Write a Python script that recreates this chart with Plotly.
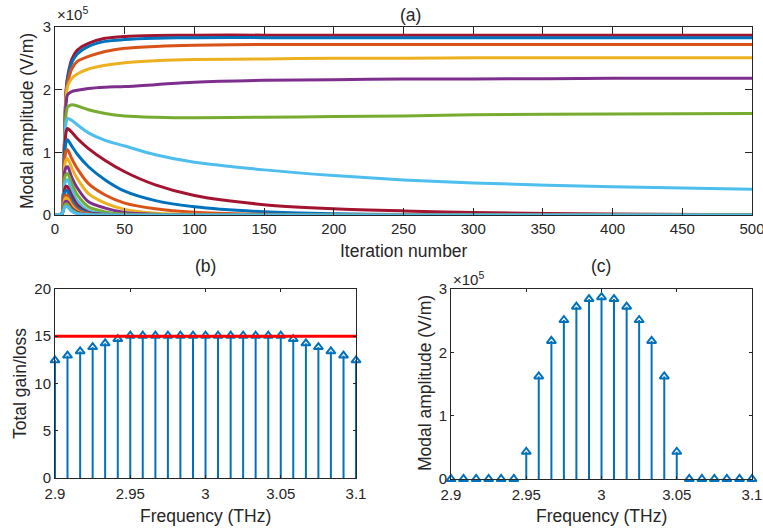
import plotly.graph_objects as go

# ---------------- data ----------------
# (a) modal amplitude (x1e5 V/m) versus iteration number, sampled at these iterations
iterations = [0, 5, 6, 7, 8, 9, 12, 16, 24, 36, 50, 72, 100, 150, 200, 250, 300, 400, 500]

mode_colors = ["#A2142F", "#0072BD", "#D95319", "#EDB120", "#7E2F8E", "#77AC30", "#4DBEEE"]

# modes that survive / approach steady state
amp_s1 = [0, 0.02, 0.3, 1.4, 2.00, 2.20, 2.48, 2.63, 2.74, 2.82, 2.85, 2.865, 2.87, 2.87, 2.87, 2.87, 2.87, 2.87, 2.87]
amp_s2 = [0, 0.02, 0.3, 1.4, 1.98, 2.17, 2.43, 2.57, 2.69, 2.77, 2.80, 2.82, 2.83, 2.83, 2.83, 2.83, 2.83, 2.83, 2.83]
amp_s3 = [0, 0.02, 0.3, 1.4, 1.95, 2.10, 2.33, 2.45, 2.53, 2.61, 2.66, 2.69, 2.71, 2.72, 2.72, 2.72, 2.72, 2.72, 2.72]
amp_s4 = [0, 0.02, 0.3, 1.4, 1.90, 2.05, 2.18, 2.25, 2.33, 2.39, 2.43, 2.46, 2.48, 2.49, 2.50, 2.50, 2.51, 2.51, 2.51]
amp_s5 = [0, 0.02, 0.3, 1.35, 1.80, 1.92, 1.97, 1.99, 2.02, 2.04, 2.05, 2.08, 2.12, 2.15, 2.16, 2.17, 2.17, 2.18, 2.18]
amp_s6 = [0, 0.02, 0.3, 1.3, 1.62, 1.72, 1.76, 1.74, 1.68, 1.62, 1.58, 1.56, 1.55, 1.56, 1.57, 1.58, 1.60, 1.61, 1.62]
amp_s7 = [0, 0.02, 0.3, 1.2, 1.48, 1.54, 1.51, 1.44, 1.31, 1.19, 1.10, 0.96, 0.84, 0.72, 0.63, 0.56, 0.51, 0.45, 0.41]

# modes that die out
amp_d1 = [0, 0.02, 0.3, 1.1, 1.33, 1.38, 1.32, 1.22, 1.06, 0.87, 0.69, 0.48, 0.31, 0.165, 0.10, 0.065, 0.04, 0.015, 0.005]
amp_d2 = [0, 0.02, 0.3, 1.0, 1.17, 1.20, 1.10, 0.97, 0.77, 0.56, 0.38, 0.23, 0.13, 0.05, 0.02, 0.008, 0.003, 0, 0]
amp_d3 = [0, 0.02, 0.3, 0.9, 1.02, 1.04, 0.90, 0.74, 0.50, 0.32, 0.19, 0.10, 0.045, 0.012, 0.003, 0, 0, 0, 0]
amp_d4 = [0, 0.02, 0.28, 0.8, 0.88, 0.90, 0.75, 0.58, 0.34, 0.19, 0.09, 0.03, 0.01, 0, 0, 0, 0, 0, 0]
amp_d5 = [0, 0.02, 0.25, 0.7, 0.76, 0.77, 0.60, 0.43, 0.21, 0.11, 0.04, 0.01, 0, 0, 0, 0, 0, 0, 0]
amp_d6 = [0, 0.02, 0.22, 0.6, 0.65, 0.66, 0.50, 0.32, 0.13, 0.05, 0.015, 0, 0, 0, 0, 0, 0, 0, 0]
amp_d7 = [0, 0.02, 0.2, 0.5, 0.55, 0.56, 0.40, 0.23, 0.07, 0.02, 0.005, 0, 0, 0, 0, 0, 0, 0, 0]
amp_d8 = [0, 0.02, 0.17, 0.42, 0.46, 0.45, 0.31, 0.16, 0.04, 0.01, 0, 0, 0, 0, 0, 0, 0, 0, 0]
amp_d9 = [0, 0.02, 0.15, 0.36, 0.39, 0.38, 0.25, 0.12, 0.03, 0.005, 0, 0, 0, 0, 0, 0, 0, 0, 0]
amp_d10 = [0, 0.02, 0.13, 0.30, 0.32, 0.31, 0.19, 0.09, 0.02, 0, 0, 0, 0, 0, 0, 0, 0, 0, 0]
amp_d11 = [0, 0.02, 0.11, 0.25, 0.27, 0.26, 0.15, 0.065, 0.012, 0, 0, 0, 0, 0, 0, 0, 0, 0, 0]
amp_d12 = [0, 0.02, 0.09, 0.20, 0.22, 0.21, 0.11, 0.045, 0.008, 0, 0, 0, 0, 0, 0, 0, 0, 0, 0]
amp_d13 = [0, 0.02, 0.08, 0.16, 0.18, 0.17, 0.08, 0.03, 0.005, 0, 0, 0, 0, 0, 0, 0, 0, 0, 0]
amp_d14 = [0, 0.02, 0.07, 0.12, 0.14, 0.13, 0.06, 0.02, 0.003, 0, 0, 0, 0, 0, 0, 0, 0, 0, 0]

mode_curves = [amp_s1, amp_s2, amp_s3, amp_s4, amp_s5, amp_s6, amp_s7,
               amp_d1, amp_d2, amp_d3, amp_d4, amp_d5, amp_d6, amp_d7,
               amp_d8, amp_d9, amp_d10, amp_d11, amp_d12, amp_d13, amp_d14]

# (b), (c) per-mode quantities at the final iteration
freqs = [2.9, 2.9083, 2.9167, 2.925, 2.9333, 2.9417, 2.95, 2.9583, 2.9667, 2.975,
         2.9833, 2.9917, 3.0, 3.0083, 3.0167, 3.025, 3.0333, 3.0417, 3.05, 3.0583,
         3.0667, 3.075, 3.0833, 3.0917, 3.1]
total_gain = [12.45, 12.95, 13.4, 13.85, 14.25, 14.7, 15.05, 15.05, 15.05, 15.05,
              15.05, 15.05, 15.05, 15.05, 15.05, 15.05, 15.05, 15.05, 15.05, 14.7,
              14.25, 13.85, 13.4, 12.95, 12.45]
loss_level = 15
final_amp = [0, 0, 0, 0, 0, 0, 0.43, 1.62, 2.18, 2.51, 2.72, 2.84, 2.87, 2.84, 2.72,
             2.51, 2.18, 1.62, 0.43, 0, 0, 0, 0, 0, 0]

# ---------------- figure ----------------
FONT = "Liberation Sans, Arial, Helvetica, sans-serif"
TXT = "#262626"
STEM = "#0072BD"
TICK_SIZE = 15
LABEL_SIZE = 17.5

fig = go.Figure()

for k, curve in enumerate(mode_curves):
    fig.add_trace(go.Scatter(
        x=iterations, y=curve, mode="lines",
        line=dict(color=mode_colors[k % 7], width=3, shape="spline", smoothing=0.8),
        xaxis="x", yaxis="y", showlegend=False, hoverinfo="skip"))


def stems(xs, ys, xa, ya):
    sx, sy = [], []
    for f, v in zip(xs, ys):
        sx += [f, f, None]
        sy += [0, v, None]
    fig.add_trace(go.Scatter(x=sx, y=sy, mode="lines", line=dict(color=STEM, width=2),
                             xaxis=xa, yaxis=ya, showlegend=False, hoverinfo="skip"))
    fig.add_trace(go.Scatter(x=xs, y=ys, mode="markers", cliponaxis=False,
                             marker=dict(symbol="triangle-up-open", size=8, color=STEM,
                                         line=dict(width=2, color=STEM)),
                             xaxis=xa, yaxis=ya, showlegend=False))


stems(freqs, total_gain, "x2", "y2")
fig.add_trace(go.Scatter(x=[freqs[0], freqs[-1]], y=[loss_level, loss_level], mode="lines",
                         line=dict(color="#FF0000", width=3), xaxis="x2", yaxis="y2",
                         showlegend=False))
stems(freqs, final_amp, "x3", "y3")

axis_common = dict(showline=True, linecolor=TXT, linewidth=1, mirror="ticks",
                   ticks="inside", tickcolor=TXT, tickwidth=1, showgrid=False,
                   zeroline=False, automargin=False, ticklabeloverflow="allow",
                   tickfont=dict(family=FONT, size=TICK_SIZE, color=TXT))
freq_ticks = dict(tickvals=[2.9, 2.95, 3.0, 3.05, 3.1], ticktext=["2.9", "2.95", "3", "3.05", "3.1"],
                  ticklabelstandoff=2)

fig.update_layout(
    width=763, height=528,
    margin=dict(l=0, r=0, t=0, b=0),
    paper_bgcolor="white", plot_bgcolor="white",
    font=dict(family=FONT, color=TXT),
    xaxis=dict(domain=[0.0721, 0.9856], range=[0, 500], tickvals=list(range(0, 501, 50)),
               ticklen=7, anchor="y", **axis_common),
    yaxis=dict(domain=[0.5928, 0.9489], range=[0, 3], tickvals=[0, 1, 2, 3],
               ticklen=7, anchor="x", **axis_common),
    xaxis2=dict(domain=[0.0721, 0.4666], range=[2.9, 3.1], ticklen=3, anchor="y2",
                **freq_ticks, **axis_common),
    yaxis2=dict(domain=[0.0947, 0.4527], range=[0, 20], tickvals=[0, 5, 10, 15, 20],
                ticklen=3, anchor="x2", **axis_common),
    xaxis3=dict(domain=[0.5911, 0.9856], range=[2.9, 3.1], ticklen=3, anchor="y3",
                **freq_ticks, **axis_common),
    yaxis3=dict(domain=[0.0928, 0.4527], range=[0, 3], tickvals=[0, 1, 2, 3],
                ticklen=3, anchor="x3", **axis_common),
)


def px_x(p):
    return p / 763


def px_y(p):
    return 1 - p / 528


def label(text, x, y, size=LABEL_SIZE, angle=0, xanchor="center", yanchor="middle"):
    fig.add_annotation(text=text, x=px_x(x), y=px_y(y), xref="paper", yref="paper",
                       showarrow=False, textangle=angle, xanchor=xanchor, yanchor=yanchor,
                       font=dict(family=FONT, size=size, color=TXT))


# panel titles
label("(a)", 410, 15)
label("(b)", 205, 266)
label("(c)", 601, 266)
# axis titles
label("Iteration number", 404, 251)
label("Modal amplitude (V/m)", 27, 121, angle=-90)
label("Frequency (THz)", 205, 516)
label("Total gain/loss", 20, 384, angle=-90)
label("Frequency (THz)", 601, 516)
label("Modal amplitude (V/m)", 425, 383, angle=-90)
# exponent labels
label("×10<sup>5</sup>", 55, 14, size=TICK_SIZE, xanchor="left")
label("×10<sup>5</sup>", 451, 278, size=TICK_SIZE, xanchor="left")

fig.write_html("out.html")
